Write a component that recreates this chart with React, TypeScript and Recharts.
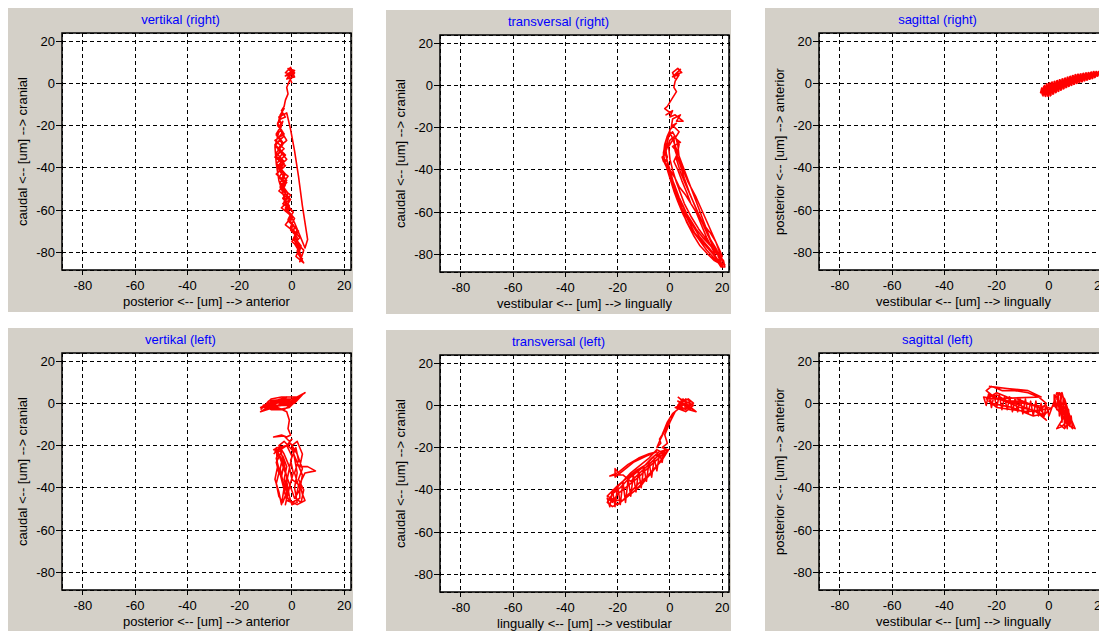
import { LineChart, Line, XAxis, YAxis, CartesianGrid, ReferenceArea, Label } from "recharts"

// axis setup shared by all six views
const xTicks = [-80, -60, -40, -20, 0, 20]
const yTicks = [20, 0, -20, -40, -60, -80]
const xDomain: [number, number] = [-88, 22.6]
const yDomain: [number, number] = [-88.4, 23.8]

// traces, [x, y] in um
const vertikalRight: [number, number][] = [
  [0, 0], [-1, 3], [1, 6], [-1.5, 7], [0.5, 4], [-2.5, 5], [-0.5, 7.5], [1, 3], [-2, 2], [0, 6], [-2.5, 3.5], [1, 5],
  [-1, 1], [-2, -2], [-1.5, -5], [-2.5, -8], [-3, -11], [-4, -13], [-3, -12], [-4.5, -15],
  [-5.5, -20], [-3, -24], [-6.5, -27], [-3, -31], [-6.5, -35], [-2.5, -39], [-6, -43], [-2, -47], [-5, -51], [-1, -55],
  [-4, -59], [0, -63], [-2.5, -67], [1.5, -71], [0, -75], [3, -78], [1.5, -82], [4.5, -85], [3.5, -83],
  [4.5, -79], [0.5, -74], [2.5, -70], [-1.5, -65], [0.5, -61], [-3, -56], [-1.5, -52], [-4.5, -47], [-2.5, -43],
  [-6, -38], [-2.5, -34], [-6.5, -29], [-3, -25], [-5.5, -19], [-3.5, -14], [-2.5, -16],
  [-4.5, -17], [-5.5, -19.5], [-4, -22], [-6, -24.5], [-4.5, -27], [-6.5, -29.5], [-4.5, -32], [-6, -34.5],
  [-4, -37], [-5.5, -39.5], [-3.5, -42], [-5, -44.5], [-3, -47], [-4.5, -49.5], [-2.5, -52], [-3.5, -54.5],
  [-1.5, -57], [-2.5, -59.5], [-0.5, -62], [-1.5, -64.5], [0.5, -67], [-0.5, -69.5], [1.5, -72], [1, -74.5],
  [2.5, -77], [2, -79.5], [3.5, -82], [3, -84.5],
  [4, -83], [2.5, -80.5], [3, -78], [1.5, -75.5], [2, -73], [0.5, -70.5], [1, -68], [-0.5, -65.5], [0, -63],
  [-1.5, -60.5], [-1, -58], [-2.5, -55.5], [-2, -53], [-3.5, -50.5], [-2.5, -48], [-4, -45.5], [-3, -43],
  [-4.5, -40.5], [-3, -38], [-5, -35.5], [-3.5, -33], [-5, -30.5], [-3.5, -28], [-5, -25.5], [-3.5, -23],
  [-5, -20.5], [-3.5, -18],
  [-4.5, -22], [-2, -27], [-5.5, -31], [-2, -36], [-5.5, -40], [-1.5, -44], [-4.5, -49], [-0.5, -53], [-3.5, -57],
  [0.5, -61], [-1.5, -65], [2, -69], [1, -73], [3.5, -77], [2.5, -81], [4, -84],
  [3, -80], [1, -76], [3, -73], [-0.5, -68], [1, -64], [-2.5, -59], [-0.5, -55], [-4, -50], [-2, -46], [-5, -41],
  [-3, -37], [-6, -33], [-3.5, -29], [-6, -24], [-4, -20], [-5, -16],
  [-2, -14], [-0.5, -22], [1, -32], [2.5, -44], [4, -58], [6, -74], [5, -78], [3, -72],
  [1, -66], [-1, -62], [-3, -54], [-5, -46], [-6, -38], [-6.5, -30], [-5, -23],
]

const transversalRight: [number, number][] = [
  [2, 3], [1, 6], [3, 8], [4.5, 6], [2, 5], [4, 7.5], [1, 4], [3.5, 5], [2, 2], [1.5, -1], [2.5, -3], [1, -6], [0, -8],
  [-1, -10], [-2, -11], [0, -13], [-1.5, -14], [1, -12], [0, -15], [2, -14], [4, -16], [3, -15], [5, -17], [2.5, -17],
  [4, -14], [1, -16], [0.5, -20], [-1, -24],
  [-2, -28], [-2.5, -33], [-1.5, -38], [0, -44], [1.5, -50], [3, -55], [5, -61], [7.5, -67], [10.5, -72], [14, -78],
  [17, -82], [20, -86], [20.5, -84], [19, -79], [17.5, -74], [15, -67], [12.5, -60], [10, -53], [7, -46], [5, -40],
  [3.5, -34], [3, -28], [2, -24], [0, -26], [-1.5, -31], [-1, -37], [0.5, -43], [2, -49], [4, -55], [6, -60],
  [8.5, -66], [11.5, -72], [15, -77], [18, -82], [20, -85], [18.5, -81], [16, -75], [13.5, -68], [11, -61],
  [8.5, -54], [6, -47], [4, -41], [2.5, -35], [3.5, -28], [1, -22], [-1.5, -26], [-2.5, -32], [-2, -36], [-0.5, -41],
  [1, -47], [2.5, -52], [4.5, -58], [7, -64], [9.5, -70], [13, -75], [16.5, -80], [19, -84], [21, -85], [19.5, -82],
  [17.5, -77], [14.5, -71], [12, -64], [9.5, -57], [7.5, -51], [5.5, -44], [4, -38], [2, -31], [1.5, -25],
  [-0.5, -29], [0, -35], [1, -40], [2.5, -46], [4, -51], [5.5, -56], [8, -62], [11, -68], [14, -73], [17, -78],
  [0, -22], [-1, -27], [-2, -30], [-1, -34], [-2, -37], [0, -42], [1, -45], [2, -48], [3.5, -53], [5, -57],
  [6.5, -61], [8, -64], [10, -68], [12.5, -72], [15.5, -76], [18, -80], [20.5, -83], [21, -86], [19.5, -86],
  [18, -83], [16.5, -78], [14, -72], [12, -66], [10, -60], [8, -56], [6.5, -51], [4.5, -45], [3, -40], [1.5, -36],
  [3, -32], [1, -29], [4, -27], [2, -25], [3.5, -22], [1, -19], [2.5, -18], [0, -21], [-2, -33], [-3, -34],
  [-2.5, -36], [-0.5, -39], [2, -44], [3.5, -48], [6, -52], [8.5, -57], [11, -62], [13, -66], [15.5, -70],
  [17.5, -74], [19, -78], [20, -81], [18.5, -84], [17, -83], [14.5, -80], [11.5, -76], [9, -71], [6.5, -65],
  [4.5, -59], [3, -53], [1.5, -47], [0, -40], [-1, -36], [-2, -31], [-1, -27],
]

const sagittalRight: [number, number][] = [
  [-3, -3], [-2.5, -5.5], [-2, -1.5], [-1.5, -6], [-1, -0.5], [-0.5, -6], [0, 0], [0.5, -6], [1, 0.5], [1.5, -5.2],
  [2, 0.8], [2.5, -4.5], [3, 1.2], [3.5, -3.9], [4, 1.6], [4.5, -3.3], [5, 2], [5.5, -2.7], [6, 2.4], [6.5, -2.1],
  [7, 2.8], [7.5, -1.5], [8, 3.2], [8.5, -1], [9, 3.6], [9.5, -0.5], [10, 4], [10.5, -0.1], [11, 4.2], [11.5, 0.3],
  [12, 4.4], [12.5, 0.7], [13, 4.6], [13.5, 1.1], [14, 4.8], [14.5, 1.5], [15, 5], [15.5, 1.9], [16, 5.2],
  [16.5, 2.2], [17, 5.5], [17.5, 2.7], [18, 5.5], [18.5, 3.3], [19, 5.6], [19.5, 3.9], [20, 5.5], [20.5, 4.8],
  [20.25, 5.2], [19.75, 4.1], [19.25, 5.6], [18.75, 3.5], [18.25, 5.5], [17.75, 2.9], [17.25, 5.5], [16.75, 2.3],
  [16.25, 5.3], [15.75, 2], [15.25, 5.1], [14.75, 1.6], [14.25, 4.9], [13.75, 1.2], [13.25, 4.7], [12.75, 0.8],
  [12.25, 4.5], [11.75, 0.4], [11.25, 4.3], [10.75, 0], [10.25, 4.1], [9.75, -0.4], [9.25, 3.7], [8.75, -0.9],
  [8.25, 3.3], [7.75, -1.4], [7.25, 2.9], [6.75, -1.9], [6.25, 2.5], [5.75, -2.5], [5.25, 2.1], [4.75, -3.1],
  [4.25, 1.7], [3.75, -3.7], [3.25, 1.3], [2.75, -4.3], [2.25, 0.9], [1.75, -5], [1.25, 0.6], [0.75, -5.7],
  [0.25, 0.2], [-0.25, -6.2], [-0.75, -0.3], [-1.25, -6.2], [-1.75, -1], [-2.25, -6], [-2.75, -2.2], [-3.2, -4.5],
  [-2, -4], [-3, -4.5], [-1, -3], [1, -2], [3, -1], [5, 0], [7, 1], [9, 2], [11, 2.5], [13, 3], [15, 3.5], [17, 4.2],
]

const vertikalLeft: [number, number][] = [
  [-12, -3], [-8, 2], [-4, 3], [2, 3], [5, 5], [0, 1], [-6, 0], [-11, -2], [-9, 1], [-3, 2], [1, 2], [-2, -1],
  [-8, -1], [-12, -4], [-7, -2], [-2, 0], [3, 3], [-1, -2], [-5, -3], [-10, -1], [-6, 1], [-1, 1], [2, 1.5],
  [-3, -3], [-8, -3], [-11, -1], [-5, 1], [0, 2], [4, 4], [1, 0], [-4, -1], [-9, -2], [-12, -2], [-7, 1],
  [-2, 3], [-6, -2], [-10, -3], [-3, 0], [2, 2], [-1, -1], [-7, -1], [-4, 2], [-9, 0],
  [-2, -4], [-1, -8], [-1.5, -12], [-0.5, -15], [-2, -16], [-4, -15], [-7, -16], [-3, -15.5], [-1, -18], [0, -17],
  [-2, -20],
  [-5.5, -21], [-7, -22], [-4, -23], [-6, -28], [-5, -33], [-6, -38], [-5, -44], [-3.5, -47], [-2, -42], [-4, -35],
  [-3, -28], [-4.5, -22], [-2, -20], [0, -25], [-1, -31], [-2, -37], [-1, -44], [0, -48], [2, -47], [1, -40],
  [2, -33], [1, -26], [0, -20], [2, -18], [4, -24], [3, -30], [6, -30], [9, -32], [5, -33], [3, -38], [4, -43],
  [5, -46], [2, -48], [-1, -46], [-3, -42], [-2, -35], [-3, -29], [-5, -24], [-6, -26], [-5, -31], [-4, -36],
  [-3, -41], [-2, -46], [0, -47], [3, -45], [3, -39], [0, -36], [-1, -30], [-3, -24], [-5, -20], [-3, -18],
  [0, -22], [2, -28], [4, -34], [3, -41], [1, -45],
  [-6, -21], [-5.5, -30], [-6.5, -36], [-5, -42], [-4, -48], [-3, -40], [-4.5, -31], [-3.5, -25], [-2, -30],
  [-3, -36], [-1.5, -42], [-2.5, -48], [-1, -40], [0.5, -33], [-0.5, -27], [1.5, -21], [2.5, -27], [1, -33],
  [2.5, -39], [1.5, -45], [3.5, -47], [4.5, -41], [2.5, -36], [4, -31], [2, -24], [-0.5, -19], [-6.5, -23],
  [-4.5, -21], [-7, -24],
]

const transversalLeft: [number, number][] = [
  [3, 4], [5, 2], [8, 1], [6, -1], [4, 3], [9, 0], [7, -2], [10, -3], [7, 0], [5, -2], [3, -1], [6, 3], [8, 2],
  [4, 0], [2, -1], [6, -3], [8, -1], [3, 2], [4, 1], [7, 3], [9, 1], [6, -2], [3, 0], [5, 3], [8, -2], [6, 1],
  [1, -4], [-1, -8], [-2, -11], [-3, -14], [-4, -16], [-3.5, -18], [-5, -20], [-4, -17], [-2, -12], [0, -6],
  [2, -3], [0, -8], [-2, -14], [-1, -18], [-3, -20],
  [-1, -21], [-4, -22], [-7, -25], [-10, -29], [-13, -32], [-16, -35], [-19, -39], [-22, -42], [-24, -46],
  [-22, -48], [-19, -46], [-16, -43], [-13, -40], [-10, -36], [-7, -32], [-4, -27], [-2, -23], [-5, -21],
  [-8, -25], [-11, -28], [-15, -32], [-18, -36], [-21, -40], [-23, -44], [-20, -47], [-17, -44], [-14, -41],
  [-11, -38], [-8, -33], [-5, -29], [-3, -25], [-1, -22], [-6, -24], [-9, -28], [-13, -31], [-17, -35],
  [-20, -38], [-24, -43], [-21, -45], [-18, -45], [-15, -41], [-12, -37], [-9, -34], [-6, -30], [-3, -26],
  [-0.5, -21], [-7, -28], [-12, -34], [-16, -38], [-20, -42], [-22, -46],
  [-24, -44], [-23, -48], [-22, -40], [-21, -48], [-20, -38], [-19, -47], [-18, -36], [-17, -46], [-16, -35],
  [-15, -43], [-14, -33], [-13, -41], [-12, -31], [-11, -39], [-10, -29], [-9, -36], [-8, -27], [-7, -34],
  [-6, -25], [-5, -31], [-4, -23], [-3, -27], [-2, -21],
  [-15, -36], [-18, -33], [-21, -33], [-23, -33.5], [-20, -32], [-16, -28], [-12, -25], [-8, -23], [-5, -22],
  [-9, -24], [-14, -27], [-18, -31], [-21, -34], [-21, -30], [-19, -33],
]

const sagittalLeft: [number, number][] = [
  [-23, 8], [-16, 7], [-8, 6], [-3, 3],
  [-24, 2], [-20, 5], [-16, 3], [-12, 2], [-8, 0], [-4, -2], [-2, -5], [-6, -6], [-10, -4], [-14, -2], [-18, -1],
  [-22, 0], [-23, 4], [-19, 2], [-15, 0], [-11, -2], [-7, -3], [-3, -5], [-1, -8], [-5, -4], [-9, -2], [-13, 0],
  [-17, 1], [-21, 3], [-24, 6], [-22, 8], [-18, 6], [-13, 6], [-8, 5], [-4, 3], [-1, 0], [-3, -3], [-8, -4],
  [-14, -3], [-20, -2], [-23, 1], [-20, 4], [-16, 1], [-11, 1], [-6, -1], [-2, -3], [0, -2],
  [-25, 3], [-24, -1], [-23, 5], [-22, -2], [-21, 4], [-20, -2], [-19, 4], [-18, -3], [-17, 3], [-16, -3],
  [-15, 3], [-14, -4], [-13, 2], [-12, -4], [-11, 2], [-10, -5], [-9, 2], [-8, -5], [-7, 1], [-6, -6], [-5, 1],
  [-4, -6], [-3, 0], [-2, -7], [-1, -1], [0, -6],
  [2, 1], [3, 5], [5, 4], [4, -2], [6, -6], [4, -10], [6, -12], [8, -8], [7, -4], [5, 0], [3, 2], [4, 5], [6, 2],
  [7, -2], [8, -6], [10, -12], [7, -10], [5, -6], [4, -3], [3, 3], [5, 5], [6, 0], [5, -4], [7, -8], [5, -11],
  [3, -12], [5, -8], [4, 0], [2, -1],
  [2, 4], [3, -3], [3.5, 5], [4, -6], [4.5, 4], [5, -9], [5.5, 3], [6, -11], [6.5, 0], [7, -12], [7.5, -3],
  [8, -11], [8.5, -6], [9, -12], [2, -1], [0, -3], [-2, -6],
]

const font = "'Liberation Sans', Arial, sans-serif"

const XTitle = ({ viewBox, value }: any) => (
  <text x={viewBox.x + viewBox.width / 2} y={viewBox.y + 36} textAnchor="middle" fontSize={13} fontFamily={font} fill="#000">
    {value}
  </text>
)

const YTitle = ({ viewBox, value }: any) => {
  const cx = 14
  const cy = viewBox.y + viewBox.height / 2
  return (
    <text x={cx} y={cy} transform={`rotate(-90 ${cx} ${cy})`} textAnchor="middle" dominantBaseline="central" fontSize={13} fontFamily={font} fill="#000">
      {value}
    </text>
  )
}

interface PanelProps {
  title: string
  xLabel: string
  yLabel: string
  trace: [number, number][]
  left: number
  top: number
}

function Panel({ title, xLabel, yLabel, trace, left, top }: PanelProps) {
  const data = trace.map(([x, y]) => ({ x, y }))
  return (
    <div style={{ position: "absolute", left, top, width: 345, height: 304, background: "#d4d0c8" }}>
      <div style={{ position: "absolute", top: 4, width: "100%", textAlign: "center", color: "#0000ff", fontSize: 13, lineHeight: "15px", fontFamily: font }}>
        {title}
      </div>
      <LineChart width={345} height={304} margin={{ top: 25, right: 2, bottom: 0, left: 0 }}>
        <CartesianGrid stroke="#000" strokeDasharray="4 3" fill="#fff" fillOpacity={1} />
        <XAxis
          type="number"
          dataKey="x"
          domain={xDomain}
          ticks={xTicks}
          allowDataOverflow
          height={42}
          axisLine={false}
          tickSize={5}
          tickMargin={6}
          tickLine={{ stroke: "#000" }}
          tick={{ fill: "#000", fontSize: 13, fontFamily: font }}
        >
          <Label value={xLabel} content={<XTitle />} />
        </XAxis>
        <YAxis
          type="number"
          dataKey="y"
          domain={yDomain}
          ticks={yTicks}
          allowDataOverflow
          width={54}
          axisLine={false}
          tickSize={6}
          tickMargin={1}
          tickLine={{ stroke: "#000" }}
          tick={{ fill: "#000", fontSize: 13, fontFamily: font }}
        >
          <Label value={yLabel} content={<YTitle />} />
        </YAxis>
        <Line data={data} dataKey="y" type="linear" stroke="#ff0000" strokeWidth={1.6} strokeLinejoin="round" dot={false} isAnimationActive={false} />
        <ReferenceArea x1={xDomain[0]} x2={xDomain[1]} y1={yDomain[0]} y2={yDomain[1]} fill="none" stroke="#000" strokeWidth={1.5} />
      </LineChart>
    </div>
  )
}

export default function App() {
  return (
    <div style={{ position: "relative", width: 1099, height: 623, overflow: "hidden", background: "#fff" }}>
      <style>{".recharts-cartesian-grid line, .recharts-cartesian-axis-tick-line { shape-rendering: crispEdges; }"}</style>
      <Panel title="vertikal (right)" xLabel="posterior <-- [um] --> anterior" yLabel="caudal <-- [um] --> cranial" trace={vertikalRight} left={0} top={0} />
      <Panel title="transversal (right)" xLabel="vestibular <-- [um] --> lingually" yLabel="caudal <-- [um] --> cranial" trace={transversalRight} left={378} top={2} />
      <Panel title="sagittal (right)" xLabel="vestibular <-- [um] --> lingually" yLabel="posterior <-- [um] --> anterior" trace={sagittalRight} left={757} top={0} />
      <Panel title="vertikal (left)" xLabel="posterior <-- [um] --> anterior" yLabel="caudal <-- [um] --> cranial" trace={vertikalLeft} left={0} top={320} />
      <Panel title="transversal (left)" xLabel="lingually <-- [um] --> vestibular" yLabel="caudal <-- [um] --> cranial" trace={transversalLeft} left={378} top={322} />
      <Panel title="sagittal (left)" xLabel="vestibular <-- [um] --> lingually" yLabel="posterior <-- [um] --> anterior" trace={sagittalLeft} left={757} top={320} />
    </div>
  )
}
